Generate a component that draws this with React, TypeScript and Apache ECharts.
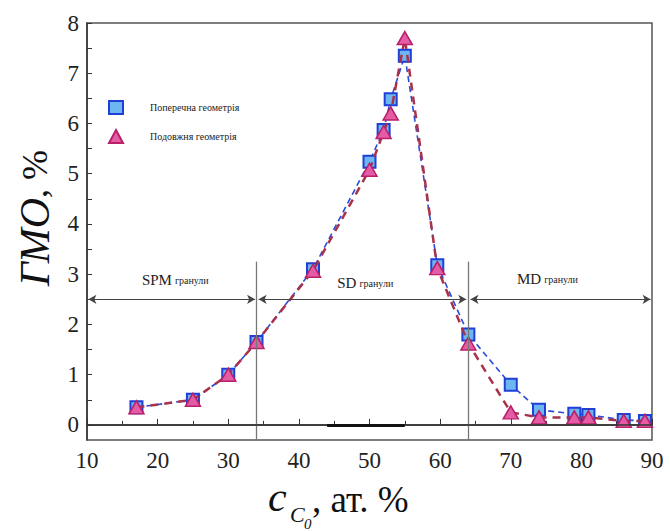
import React, { useEffect, useRef } from "react";
import * as echarts from "echarts";

const xTransverse = [17, 25, 30, 34, 42, 50, 52, 53, 55, 59.6, 64, 70, 74, 79, 81, 86, 89];
const yTransverse = [0.35, 0.5, 1.0, 1.65, 3.1, 5.24, 5.87, 6.48, 7.35, 3.18, 1.8, 0.8, 0.3, 0.22, 0.2, 0.1, 0.08];
const xLongitudinal = [17, 25, 30, 34, 42, 50, 52, 53, 55, 59.6, 64, 70, 74, 79, 81, 86, 89];
const yLongitudinal = [0.35, 0.5, 1.0, 1.65, 3.07, 5.08, 5.83, 6.2, 7.7, 3.12, 1.62, 0.25, 0.15, 0.15, 0.15, 0.08, 0.08];
const yTicks = [0, 1, 2, 3, 4, 5, 6, 7, 8];
const yMinorTicks = [0, 0.5, 1, 1.5, 2, 2.5, 3, 3.5, 4, 4.5, 5, 5.5, 6, 6.5, 7, 7.5, 8];
const boundaries = [34, 64];
const regionArrows = [[10.2, 33.8], [34.3, 63.7], [64.3, 89.8]];
const regionLabels = [
  { x: 22.5, y: 2.88, main: "SPM", sub: "гранули" },
  { x: 49.4, y: 2.82, main: "SD", sub: "гранули" },
  { x: 75.2, y: 2.9, main: "MD", sub: "гранули" },
];
const names = ["Поперечна геометрія", "Подовжня геометрія"];

const SERIF = "Liberation Serif";

export default function App() {
  const ref = useRef<HTMLDivElement>(null);
  useEffect(() => {
    if (!ref.current) return;
    const chart = echarts.init(ref.current, null, { renderer: "svg" });
    const option: any = {
      animation: false,
      backgroundColor: "#fff",
      textStyle: { fontFamily: SERIF },
      grid: {
        left: 87, right: 18, top: 23, bottom: 91,
        show: true, borderColor: "#555", borderWidth: 1.5,
      },
      legend: {
        orient: "vertical",
        left: 103, top: 95,
        itemWidth: 14, itemHeight: 13, itemGap: 14,
        textStyle: { fontFamily: SERIF, fontSize: 10, color: "#222", padding: [0, 0, 0, 22] },
        data: [
          { name: names[0], icon: "rect" },
          { name: names[1], icon: "triangle" },
        ],
      },
      xAxis: {
        type: "value", min: 10, max: 90, interval: 10,
        axisLine: { show: true, lineStyle: { color: "#333", width: 1.5 } },
        axisTick: { show: true, inside: true, length: 6, lineStyle: { color: "#333" } },
        minorTick: { show: true, splitNumber: 2, length: 4, lineStyle: { color: "#333" } },
        axisLabel: { fontFamily: SERIF, fontSize: 23, color: "#222", margin: 9 },
        splitLine: { show: false },
      },
      yAxis: {
        type: "value", min: -0.3, max: 8,
        axisLine: { show: true, lineStyle: { color: "#333", width: 1.5 } },
        axisTick: { show: true, inside: true, length: 5, customValues: yMinorTicks, lineStyle: { color: "#333" } },
        axisLabel: { fontFamily: SERIF, fontSize: 23, color: "#222", margin: 8, customValues: yTicks },
        splitLine: { show: false },
      },
      graphic: [
        {
          type: "text", left: 14, top: 150, rotation: Math.PI / 2,
          style: {
            text: "{i|ГМО}{n|, %}",
            rich: {
              i: { fontFamily: SERIF, fontStyle: "italic", fontSize: 42, fill: "#111" },
              n: { fontFamily: SERIF, fontSize: 36, fill: "#111" },
            },
          },
        },
        { type: "text", x: 268, y: 518, style: { text: "c", fontFamily: SERIF, fontStyle: "italic", fontSize: 42, fill: "#111", verticalAlign: "bottom" } },
        { type: "text", x: 290, y: 525, style: { text: "C", fontFamily: SERIF, fontStyle: "italic", fontSize: 22, fill: "#111", verticalAlign: "bottom" } },
        { type: "text", x: 304, y: 531, style: { text: "0", fontFamily: SERIF, fontStyle: "italic", fontSize: 15, fill: "#111", verticalAlign: "bottom" } },
        { type: "text", x: 312, y: 518, style: { text: ", ат. %", fontFamily: SERIF, fontSize: 37, fill: "#111", verticalAlign: "bottom" } },
      ],
      series: [
        {
          name: "annotations", type: "line", data: [], silent: true,
          markLine: {
            silent: true, symbol: "none", label: { show: false },
            data: [
              ...boundaries.map((b) => [
                { coord: [b, -0.3], lineStyle: { color: "#777", width: 1.3, type: "solid" } },
                { coord: [b, 3.25] },
              ]),
              [
                { coord: [10, 0], lineStyle: { color: "#333", width: 1.5, type: "solid" } },
                { coord: [90, 0] },
              ],
              [
                { coord: [44, 0], lineStyle: { color: "#111", width: 3, type: "solid" } },
                { coord: [55, 0] },
              ],
            ],
          },
        },
        {
          name: "arrows", type: "line", data: [], silent: true,
          markLine: {
            silent: true, symbol: ["arrow", "arrow"], symbolSize: [7, 8], label: { show: false },
            lineStyle: { color: "#444", width: 1.2, type: "solid" },
            data: regionArrows.map(([a, b]) => [{ coord: [a, 2.5] }, { coord: [b, 2.5] }]),
          },
          markPoint: {
            silent: true, symbol: "circle", symbolSize: 0,
            label: {
              show: true, position: "inside",
              rich: {
                m: { fontFamily: SERIF, fontSize: 15, color: "#222" },
                s: { fontFamily: SERIF, fontSize: 10, color: "#222" },
              },
            },
            data: regionLabels.map((r) => ({
              coord: [r.x, r.y],
              label: { formatter: `{m|${r.main}} {s|${r.sub}}` },
            })),
          },
        },
        {
          name: names[0], type: "line",
          data: xTransverse.map((x, i) => [x, yTransverse[i]]),
          symbol: "rect", symbolSize: [12, 12],
          itemStyle: { color: "#6cb6f2", borderColor: "#1f3fd6", borderWidth: 2 },
          lineStyle: { color: "#2a4bd7", width: 1.6, type: [6, 4] },
          z: 3,
        },
        {
          name: names[1], type: "line",
          data: xLongitudinal.map((x, i) => [x, yLongitudinal[i]]),
          symbol: "triangle", symbolSize: [15, 13],
          itemStyle: { color: "#e45ca4", borderColor: "#b8206a", borderWidth: 1.5 },
          lineStyle: { color: "#a8324a", width: 2.5, type: [8, 6] },
          z: 4,
        },
      ],
    };
    chart.setOption(option);
    return () => chart.dispose();
  }, []);
  return <div ref={ref} style={{ width: 670, height: 531, position: "absolute", left: 0, top: 0 }} />;
}
